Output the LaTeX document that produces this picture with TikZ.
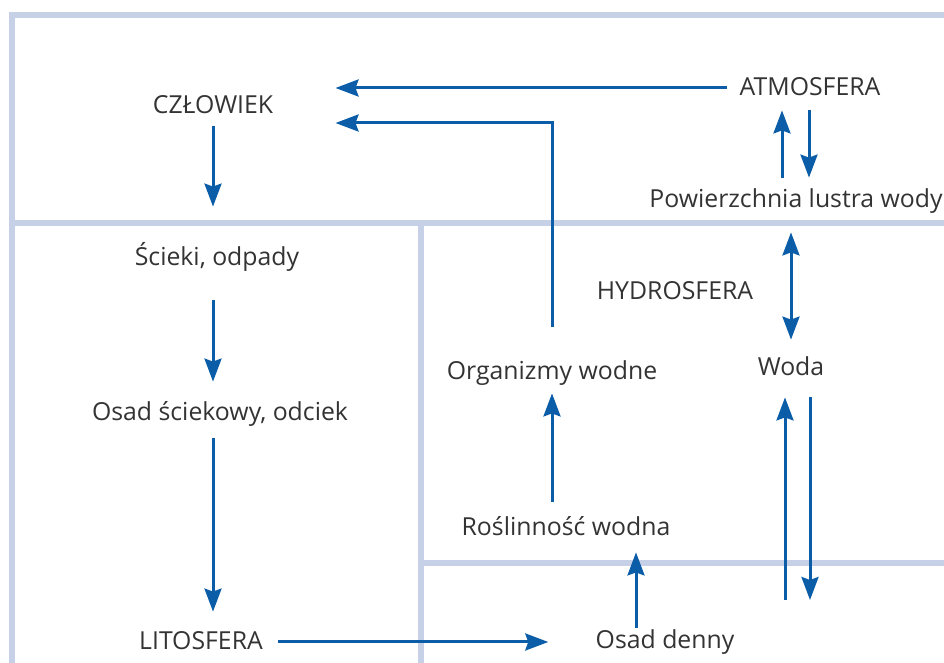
\documentclass[tikz,border=0pt]{standalone}
\usepackage{fontspec}
\setmainfont{Open Sans}
\usepackage{tikz}
\usetikzlibrary{arrows.meta,calc}
\definecolor{flowblue}{HTML}{0B5DA8}
\definecolor{framegray}{HTML}{C6D1E7}
\definecolor{labelgray}{HTML}{333333}

\tikzset{
  lbl/.style={inner sep=0pt,text height=10pt,text depth=2pt,text=labelgray,
    font=\fontsize{12.4}{14}\selectfont},
  arr/.style={flowblue,line width=1.5pt,-{Stealth[length=11.5pt,width=8.5pt,inset=1.5pt]}},
  arrboth/.style={flowblue,line width=1.5pt,
    {Stealth[length=11.5pt,width=8.5pt,inset=1.5pt]}-{Stealth[length=11.5pt,width=8.5pt,inset=1.5pt]}},
  frame/.style={framegray,line width=3pt}
}

\begin{document}
\begin{tikzpicture}[x=0.5pt,y=-0.5pt]
  \useasboundingbox (0,0) rectangle (944,663);
  % Marco de las zonas
  \draw[frame] (944,15) -- (12,15) -- (12,663);
  \draw[frame] (12,223) -- (944,223);
  \draw[frame] (421,223) -- (421,663);
  \draw[frame] (421,563) -- (944,563);

  % Textos
  \node[lbl] (czlowiek) at (213,106) {CZŁOWIEK};
  \node[lbl] (atmosfera) at (810,88) {ATMOSFERA};
  \node[lbl] (powierzchnia) at (796,200) {Powierzchnia lustra wody};
  \node[lbl] (scieki) at (217,258) {Ścieki, odpady};
  \node[lbl] (osadsc) at (220,413) {Osad ściekowy, odciek};
  \node[lbl] (lito) at (201,642) {LITOSFERA};
  \node[lbl] (hydro) at (675,292) {HYDROSFERA};
  \node[lbl] (organizmy) at (552,372) {Organizmy wodne};
  \node[lbl] (woda) at (791,368) {Woda};
  \node[lbl] (roslinnosc) at (566,528) {Roślinność wodna};
  \node[lbl] (osaddenny) at (665,640) {Osad denny};
  \coordinate (dno) at (797.5,600);

  % Flechas
  \draw[arr,shorten <=6pt,shorten >=31pt] (atmosfera.west) -- (atmosfera.west -| czlowiek.east);
  \draw[arr,shorten <=16.5pt,shorten >=31pt] (organizmy.north) |- ($(czlowiek.east)+(0,17)$);
  \draw[arr,shorten <=4pt,shorten >=19.5pt] (czlowiek.south) -- (czlowiek.south |- scieki.north);
  \draw[arr,shorten <=15pt,shorten >=9.5pt] (czlowiek |- scieki.south) -- (czlowiek |- osadsc.north);
  \draw[arr,shorten <=6.5pt,shorten >=9pt] (czlowiek |- osadsc.south) -- (czlowiek |- lito.north);
  \draw[arr,shorten <=7.5pt,shorten >=23.5pt] (lito.east) -- (lito.east -| osaddenny.west);
  \draw[arr] ($(osaddenny.north)+(-29,0)$) -- ($(osaddenny.north |- roslinnosc.south)+(-29,12)$);
  \draw[arr,shorten <=7pt,shorten >=4.5pt] (organizmy |- roslinnosc.north) -- (organizmy.south);
  \draw[arrboth,shorten <=10pt,shorten >=8pt] (woda |- powierzchnia.south) -- (woda.north);
  \draw[arr] ($(atmosfera.south -| powierzchnia)+(13,10)$) -- ($(powierzchnia.north)+(13,-10)$);
  \draw[arr] ($(powierzchnia.north)+(-14,-10)$) -- ($(atmosfera.south -| powierzchnia)+(-14,10)$);
  \draw[arr] ($(dno)+(-12.5,0)$) -- ($(woda.south -| dno)+(-12.5,17)$);
  \draw[arr] ($(woda.south -| dno)+(12.5,17)$) -- ($(dno)+(12.5,0)$);
\end{tikzpicture}
\end{document}
